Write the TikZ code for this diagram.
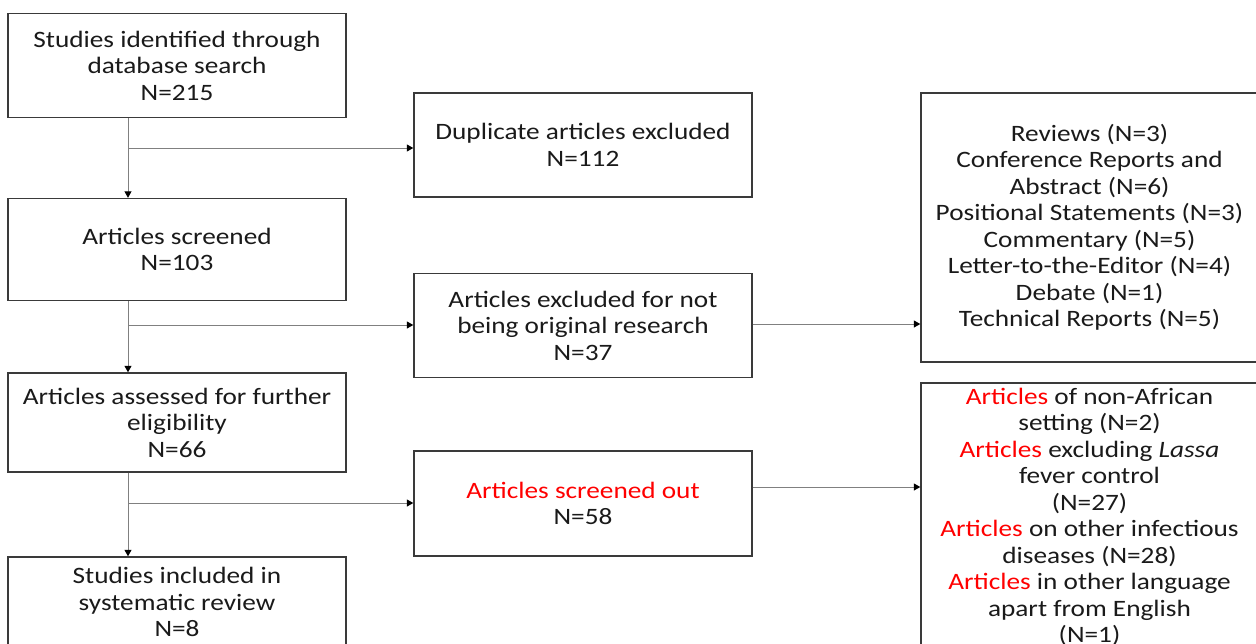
\documentclass[tikz,border=0pt]{standalone}
\usepackage{fontspec}
\setmainfont[FakeStretch=1.16]{Carlito}
\usetikzlibrary{arrows.meta}
\definecolor{boxline}{HTML}{3A3A3A}
\definecolor{conn}{HTML}{808080}
\definecolor{txt}{HTML}{1A1A1A}
\begin{document}
\begin{tikzpicture}[x=1pt,y=-1pt,
  font=\fontsize{23.5}{26.5}\selectfont,
  box/.style={draw=boxline, line width=1.4pt, align=center, inner sep=0pt,
              minimum width=338pt, text=txt},
  arr/.style={draw=conn, line width=1pt, -{Triangle[length=6.5pt,width=7pt,color=black]}}]
\useasboundingbox (0,0) rectangle (1256,643);
\clip (0,0) rectangle (1256,643);
\fill[white] (0,0) rectangle (1256,643);
% left column
\node[box, minimum height=104pt] (b1) at (177,65.5) {Studies identified through\\database search\\N=215};
\node[box, minimum height=102pt] (b2) at (177,249.5) {Articles screened\\N=103};
\node[box, minimum height=99pt] (b3) at (177,422.5) {Articles assessed for further\\eligibility\\N=66};
\node[box, minimum height=90pt] (b4) at (177,602) {Studies included in\\systematic review\\N=8};
% middle column
\node[box, minimum height=104pt] (dup) at (583,145) {Duplicate articles excluded\\N=112};
\node[box, minimum height=104pt] (exc) at (583,325.5) {Articles excluded for not\\being original research\\N=37};
\node[box, minimum height=105pt] (out) at (583,503.5) {\textcolor{red}{Articles screened out}\\N=58};
% right column
\node[box, minimum width=337pt, minimum height=269pt] (r1) at (1089.5,227.5)
  {Reviews (N=3)\\Conference Reports and\\Abstract (N=6)\\Positional Statements (N=3)\\Commentary (N=5)\\Letter-to-the-Editor (N=4)\\Debate (N=1)\\Technical Reports (N=5)};
\node[box, minimum width=337pt, minimum height=268pt] (r2) at (1089.5,517)
  {\textcolor{red}{Articles} of non-African\\setting (N=2)\\\textcolor{red}{Articles} excluding \textit{Lassa}\\fever control\\(N=27)\\\textcolor{red}{Articles} on other infectious\\diseases (N=28)\\\textcolor{red}{Articles} in other language\\apart from English\\(N=1)};
% trunk
\coordinate (t) at (128,0);
\draw[arr] (t |- b1.south) -- (t |- b2.north);
\draw[arr] (t |- b2.south) -- (t |- b3.north);
\draw[arr] (t |- b3.south) -- (t |- b4.north);
% branches
\draw[arr] (t |- 0,148) -- (dup.west |- 0,148);
\draw[arr] (t |- 0,325) -- (exc.west |- 0,325);
\draw[arr] (t |- 0,503) -- (out.west |- 0,503);
% to right boxes
\draw[arr] (exc.east |- 0,324) -- (r1.west |- 0,324);
\draw[arr] (out.east |- 0,487) -- (r2.west |- 0,487);
\end{tikzpicture}
\end{document}
